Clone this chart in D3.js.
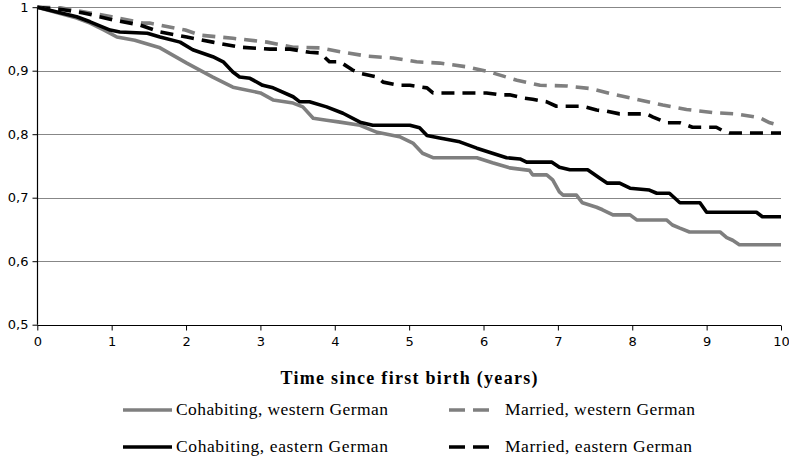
<!DOCTYPE html>
<html><head><meta charset="utf-8">
<script src="https://cdn.jsdelivr.net/npm/d3@7"></script>
<style>body{margin:0;background:#fff}svg{display:block}</style>
</head><body>
<svg id="c" width="789" height="457"></svg>
<script>
// Data: [time (years), survival proportion]
const cohabWest = [[0,1],[0.53,0.983],[0.71,0.975],[0.9,0.964],[1.07,0.953],[1.31,0.948],[1.65,0.936],[2.01,0.912],[2.36,0.89],[2.63,0.874],[3.0,0.865],[3.17,0.854],[3.44,0.849],[3.57,0.843],[3.71,0.825],[3.89,0.822],[4.07,0.819],[4.34,0.814],[4.57,0.803],[4.87,0.796],[5.05,0.786],[5.18,0.770],[5.32,0.763],[5.91,0.763],[6.12,0.755],[6.35,0.747],[6.62,0.743],[6.66,0.736],[6.85,0.736],[6.93,0.728],[7.02,0.709],[7.07,0.704],[7.25,0.704],[7.33,0.692],[7.52,0.685],[7.60,0.681],[7.74,0.673],[7.97,0.673],[8.06,0.665],[8.46,0.665],[8.54,0.657],[8.64,0.652],[8.77,0.646],[9.18,0.646],[9.27,0.637],[9.35,0.633],[9.44,0.626],[10,0.626]];
const cohabEast = [[0,1],[0.53,0.985],[0.71,0.977],[0.98,0.964],[1.11,0.961],[1.48,0.959],[1.65,0.953],[1.92,0.945],[2.09,0.933],[2.36,0.922],[2.50,0.914],[2.63,0.898],[2.72,0.89],[2.86,0.888],[3.03,0.877],[3.17,0.873],[3.44,0.859],[3.53,0.851],[3.66,0.851],[3.89,0.843],[4.11,0.833],[4.34,0.819],[4.51,0.814],[5.01,0.814],[5.14,0.81],[5.24,0.798],[5.41,0.794],[5.68,0.788],[5.91,0.778],[6.12,0.77],[6.31,0.763],[6.49,0.761],[6.58,0.756],[6.92,0.756],[7.02,0.748],[7.16,0.744],[7.40,0.744],[7.56,0.731],[7.66,0.723],[7.83,0.723],[7.97,0.715],[8.23,0.712],[8.33,0.707],[8.50,0.707],[8.64,0.692],[8.91,0.692],[9.0,0.677],[9.67,0.677],[9.75,0.67],[10,0.67]];
const marriedWest = [[0,1],[0.31,0.999],[0.71,0.991],[1.0,0.985],[1.42,0.975],[1.51,0.975],[1.99,0.964],[2.19,0.956],[2.63,0.951],[3.09,0.945],[3.44,0.937],[3.80,0.936],[4.07,0.93],[4.43,0.923],[4.78,0.92],[5.10,0.914],[5.41,0.912],[5.78,0.906],[6.08,0.898],[6.45,0.885],[6.76,0.877],[7.12,0.876],[7.43,0.872],[7.74,0.863],[8.06,0.855],[8.41,0.846],[8.73,0.839],[9.08,0.834],[9.40,0.832],[9.71,0.826],[9.85,0.818],[10,0.813]];
const marriedEast = [[0,1],[0.35,0.996],[0.62,0.991],[1.02,0.98],[1.38,0.972],[1.65,0.961],[2.01,0.953],[2.36,0.945],[2.72,0.937],[3.13,0.934],[3.40,0.934],[3.66,0.929],[3.80,0.928],[3.93,0.914],[4.07,0.914],[4.24,0.901],[4.34,0.896],[4.57,0.89],[4.65,0.882],[4.87,0.877],[5.01,0.877],[5.24,0.873],[5.32,0.865],[6.04,0.865],[6.22,0.862],[6.35,0.862],[6.53,0.857],[6.66,0.855],[6.85,0.851],[6.98,0.844],[7.33,0.844],[7.52,0.838],[7.66,0.836],[7.83,0.832],[8.19,0.832],[8.28,0.827],[8.46,0.818],[8.64,0.818],[8.81,0.811],[9.13,0.811],[9.21,0.806],[9.31,0.802],[10,0.802]];
const xTicks = [0,1,2,3,4,5,6,7,8,9,10];
const yTicks = [0.5,0.6,0.7,0.8,0.9,1];
const yTickLabels = ["0,5","0,6","0,7","0,8","0,9","1"];
const seriesNames = ["Cohabiting, western German","Married, western German","Cohabiting, eastern German","Married, eastern German"];

const svg = d3.select("#c");
const x = d3.scaleLinear().domain([0,10]).range([37.3,781]);
const y = d3.scaleLinear().domain([0.5,1]).range([324.7,7.2]);

// gridlines
svg.append("g").selectAll("line").data(yTicks.filter(v=>v>0.5)).join("line")
  .attr("x1",x(0)).attr("x2",x(10)).attr("y1",d=>Math.round(y(d))+0.5).attr("y2",d=>Math.round(y(d))+0.5)
  .attr("stroke","#878787").attr("stroke-width",1.2);

const sans = "'DejaVu Sans', Verdana, sans-serif";
const serif = "'Liberation Serif','DejaVu Serif',serif";

// y axis
const yAxis = svg.append("g").attr("transform",`translate(${Math.round(x(0))+0.5},0)`)
  .call(d3.axisLeft(y).tickValues(yTicks).tickSize(5).tickFormat((d,i)=>yTickLabels[i]).tickPadding(4));
yAxis.select(".domain").attr("stroke","#000").attr("stroke-width",1.2).attr("d",`M0,${y(1)}V${y(0.5)}`);
yAxis.selectAll("text").attr("font-family",sans).attr("font-size",13).attr("fill","#000");
yAxis.selectAll(".tick line").attr("stroke","#000");

// x axis
const xAxis = svg.append("g").attr("transform",`translate(0,${Math.round(y(0.5))+0.5})`)
  .call(d3.axisBottom(x).tickValues(xTicks).tickSize(5).tickPadding(6));
xAxis.select(".domain").attr("stroke","#000").attr("stroke-width",1.2).attr("d",`M${x(0)},0H${x(10)}`);
xAxis.selectAll("text").attr("font-family",sans).attr("font-size",13).attr("fill","#000");
xAxis.selectAll(".tick line").attr("stroke","#000");

svg.append("text").attr("x",409).attr("y",384).attr("text-anchor","middle")
  .attr("font-family",serif).attr("font-weight","bold").attr("font-size",18)
  .attr("textLength",257).attr("lengthAdjust","spacing")
  .text("Time since first birth (years)");

const line = d3.line().x(d=>x(d[0])).y(d=>y(d[1]));
const styles = [
  {data:cohabWest, color:"#7f7f7f", dash:null},
  {data:marriedWest, color:"#7f7f7f", dash:"13,8"},
  {data:cohabEast, color:"#000", dash:null},
  {data:marriedEast, color:"#000", dash:"13,8"}
];
const order = [1,3,0,2];
order.forEach(i=>{
  const s = styles[i];
  svg.append("path").attr("d",line(s.data)).attr("fill","none")
    .attr("stroke",s.color).attr("stroke-width",3.6).attr("stroke-linejoin","round")
    .attr("stroke-dasharray",s.dash);
});

// legend
const legPos = [[123,410],[449,410],[123,447],[449,447]];
const legW = [212,190,212,187];
styles.forEach((s,i)=>{
  const [lx,ly] = legPos[i];
  svg.append("line").attr("x1",lx).attr("x2",s.dash? lx+41 : lx+49).attr("y1",ly).attr("y2",ly)
    .attr("stroke",s.color).attr("stroke-width",3.6).attr("stroke-dasharray",s.dash?"16,8":null);
  svg.append("text").attr("x", s.dash? lx+56 : lx+53).attr("y",ly+5)
    .attr("font-family",serif).attr("font-size",17.5).attr("fill","#000")
    .attr("textLength",legW[i]).attr("lengthAdjust","spacing").text(seriesNames[i]);
});
</script>
</body></html>
